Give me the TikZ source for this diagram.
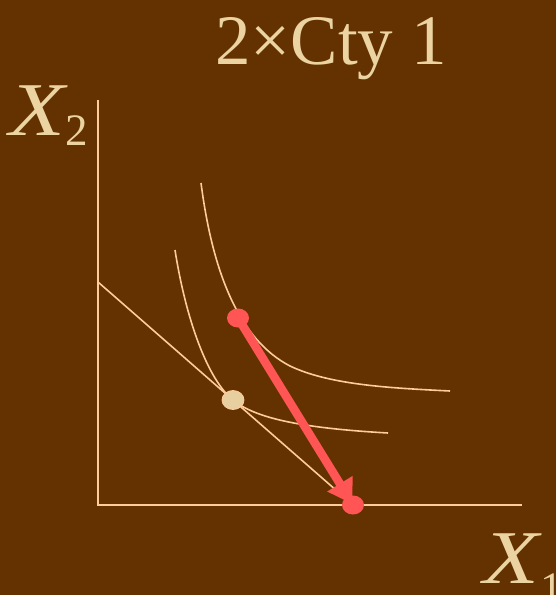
\documentclass[tikz,border=0pt]{standalone}
\usepackage{fontspec}
\setmainfont{Liberation Serif}
\usetikzlibrary{arrows.meta,shapes.geometric}
\definecolor{bg}{HTML}{633200}
\definecolor{txt}{HTML}{EBD3A2}
\definecolor{ln}{HTML}{FFCC99}
\definecolor{rd}{HTML}{FF5555}
\definecolor{dotb}{HTML}{E8CFA0}
\tikzset{
  curve/.style={ln, line width=1.6pt},
  reddot/.style={ellipse, fill=rd, minimum width=22pt, minimum height=19pt, inner sep=0pt},
  begedot/.style={ellipse, fill=dotb, draw=ln, line width=0.8pt, minimum width=22pt, minimum height=19pt, inner sep=0pt},
  lbl/.style={txt, inner sep=0pt, anchor=base west},
  bigx/.style={lbl, font=\fontsize{76}{76}\selectfont\itshape},
  subx/.style={lbl, font=\fontsize{45}{45}\selectfont}
}
\begin{document}
\begin{tikzpicture}[x=1pt,y=-1pt]
\fill[bg] (0,0) rectangle (556,595);
\useasboundingbox (0,0) rectangle (556,595);
\node[txt, inner sep=0pt, anchor=base, font=\fontsize{71}{71}\selectfont] (title) at (331,64) {2×Cty 1};
\node[bigx] (x2) at (9,135) {\scalebox{1.2}[1]{X}};
\node[subx] (x2s) at (65,145) {2};
\node[bigx] (x1) at (483,583) {\scalebox{1.2}[1]{X}};
\node[subx] (x1s) at (540,603) {1};
\coordinate (o) at (98,505);
\coordinate (ytop) at (98,100);
\coordinate (xend) at (522,505);
\coordinate (b1) at (98,282);
\coordinate (b2) at (353,505);
\draw[curve] (ytop) -- (o) -- (xend);
\draw[curve] (b1) -- (b2);
% inner indifference curve
\coordinate (i0) at (175,250);
\coordinate (t) at (233,400);
\coordinate (i1) at (388,433);
\draw[curve] (i0) .. controls (186,320) and (208,380) .. (t) .. controls (255,418) and (300,428) .. (i1);
% outer indifference curve
\coordinate (u0) at (201,183);
\coordinate (um) at (290,366);
\coordinate (u1) at (450,391);
\draw[curve] (u0) .. controls (213,275) and (240,340) .. (um) .. controls (330,385) and (390,388) .. (u1);
\node[begedot] (e) at (t) {};
\node[reddot] (a) at (238,318) {};
\node[reddot] (b) at (b2) {};
\draw[rd, line width=8.5pt, -{Triangle[length=24pt,width=28pt]}, shorten >=1pt] (a.center) -- (b.center);
\end{tikzpicture}
\end{document}
